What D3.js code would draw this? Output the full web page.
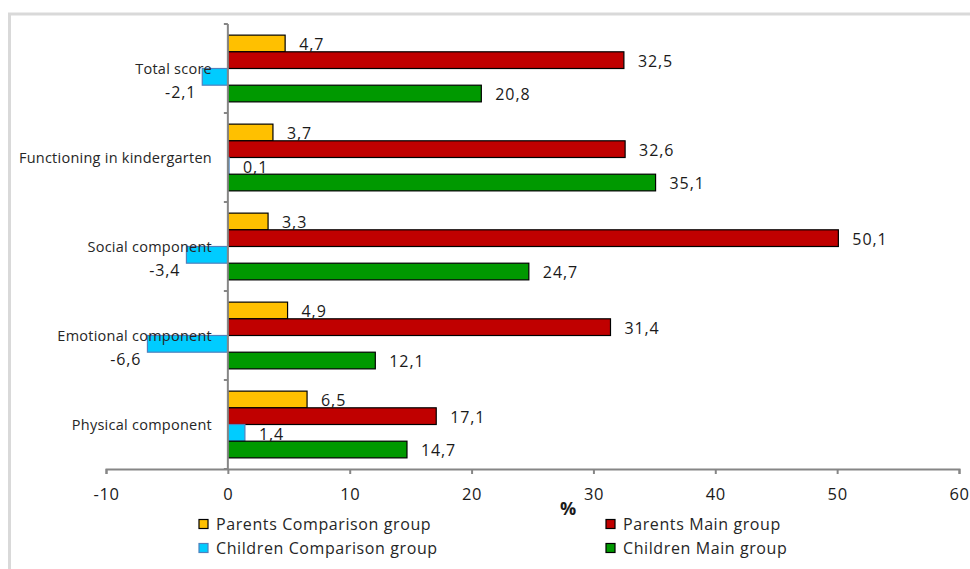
<!DOCTYPE html>
<html>
<head>
<meta charset="utf-8">
<script src="https://cdn.jsdelivr.net/npm/d3@7"></script>
<style>
  html, body { margin: 0; padding: 0; background: #fff; }
  svg { display: block; }
  text { font-family: "Open Sans", "Liberation Sans", sans-serif; }
</style>
</head>
<body>
<svg id="chart" width="970" height="569"></svg>
<script>
// Change scores (%) by domain, for each group
const categories = [
  "Total score",
  "Functioning in kindergarten",
  "Social component",
  "Emotional component",
  "Physical component"
];
const seriesNames = [
  "Parents Comparison group",
  "Parents Main group",
  "Children Comparison group",
  "Children Main group"
];
const parentsComparison  = [4.7, 3.7, 3.3, 4.9, 6.5];
const parentsMain        = [32.5, 32.6, 50.1, 31.4, 17.1];
const childrenComparison = [-2.1, 0.1, -3.4, -6.6, 1.4];
const childrenMain       = [20.8, 35.1, 24.7, 12.1, 14.7];
const xTicks = [-10, 0, 10, 20, 30, 40, 50, 60];
const axisTitle = "%";

const seriesValues = [parentsComparison, parentsMain, childrenComparison, childrenMain];
const fills   = ["#FFC000", "#C00000", "#00CCFF", "#009900"];
const strokes = ["#000000", "#000000", "#4F81BD", "#000000"];

const svg = d3.select("#chart");

// outer chart frame
svg.append("rect")
  .attr("x", 9.5).attr("y", 14)
  .attr("width", 990).attr("height", 600)
  .attr("fill", "none").attr("stroke", "#d9d9d9").attr("stroke-width", 3);

const plot = { left: 106, right: 959, top: 24, bottom: 469 };

const x = d3.scaleLinear().domain([-10, 60]).range([plot.left, plot.right]);
const y = d3.scaleBand().domain(categories).range([plot.top, plot.bottom])
  .paddingInner(0.25).paddingOuter(0.125);
const ySub = d3.scaleBand().domain(seriesNames).range([0, y.bandwidth()]);

const fmt = v => String(v).replace(".", ",");

// bars
const rows = [];
categories.forEach((c, i) => {
  seriesNames.forEach((s, j) => {
    rows.push({ cat: c, series: s, j, value: seriesValues[j][i] });
  });
});

const g = svg.append("g");
g.selectAll("rect.bar").data(rows).enter().append("rect")
  .attr("class", "bar")
  .attr("x", d => x(Math.min(0, d.value)))
  .attr("y", d => y(d.cat) + ySub(d.series))
  .attr("width", d => Math.abs(x(d.value) - x(0)))
  .attr("height", ySub.bandwidth())
  .attr("fill", d => fills[d.j])
  .attr("stroke", d => strokes[d.j])
  .attr("stroke-width", 1.2);

// value labels
g.selectAll("text.val").data(rows).enter().append("text")
  .attr("class", "val")
  .attr("x", d => d.value >= 0 ? x(d.value) + 14 : x(d.value) - 6)
  .attr("y", d => y(d.cat) + ySub(d.series) + ySub.bandwidth() / 2 + (d.value >= 0 ? 1 : 15))
  .attr("dy", "0.36em")
  .attr("text-anchor", d => d.value >= 0 ? "start" : "end")
  .attr("font-size", 16)
  .attr("letter-spacing", 0.9)
  .attr("fill", "#1a1a1a")
  .text(d => fmt(d.value));

// category labels
svg.append("g").selectAll("text").data(categories).enter().append("text")
  .attr("x", 212)
  .attr("y", d => y(d) + y.step() / 2 - (y.step() * y.paddingInner()) / 2)
  .attr("dy", "0.35em")
  .attr("text-anchor", "end")
  .attr("font-size", 14.5)
  .attr("letter-spacing", 0.25)
  .attr("fill", "#262626")
  .text(d => d);

// x axis
const xAxis = d3.axisBottom(x).tickValues(xTicks).tickSize(5).tickSizeOuter(5).tickPadding(14)
  .tickFormat(d => String(d));
const xa = svg.append("g").attr("transform", `translate(0,${plot.bottom})`).call(xAxis);
xa.select(".domain").attr("stroke", "#868686").attr("stroke-width", 2);
xa.selectAll(".tick line").attr("stroke", "#868686").attr("stroke-width", 2);
xa.selectAll(".tick text").attr("font-size", 16.5).attr("fill", "#1a1a1a")
  .attr("letter-spacing", 0.6)
  .attr("font-family", "'Open Sans', sans-serif");

// y axis at zero
const yBoundaries = d3.range(categories.length + 1).map(i => plot.top + i * y.step());
const ya = svg.append("g");
ya.append("line")
  .attr("x1", x(0)).attr("x2", x(0))
  .attr("y1", plot.top).attr("y2", plot.bottom)
  .attr("stroke", "#868686").attr("stroke-width", 2);
ya.selectAll("line.tk").data(yBoundaries).enter().append("line")
  .attr("class", "tk")
  .attr("x1", x(0) - 4).attr("x2", x(0))
  .attr("y1", d => d).attr("y2", d => d)
  .attr("stroke", "#868686").attr("stroke-width", 2);

// axis title
svg.append("text")
  .attr("x", 568).attr("y", 509)
  .attr("dy", "0.35em")
  .attr("text-anchor", "middle")
  .attr("font-size", 18).attr("font-weight", "bold")
  .attr("fill", "#1a1a1a")
  .text(axisTitle);

// legend
const legendPos = [
  { x: 199, y: 524 }, { x: 606, y: 524 },
  { x: 199, y: 548 }, { x: 606, y: 548 }
];
const lg = svg.append("g").selectAll("g").data(seriesNames).enter().append("g")
  .attr("transform", (d, i) => `translate(${legendPos[i].x},${legendPos[i].y})`);
lg.append("rect")
  .attr("x", 0).attr("y", -4.5).attr("width", 9).attr("height", 9)
  .attr("fill", (d, i) => fills[i])
  .attr("stroke", (d, i) => strokes[i]).attr("stroke-width", 1.2);
lg.append("text")
  .attr("x", 17).attr("y", 0).attr("dy", "0.35em")
  .attr("font-size", 16)
  .attr("letter-spacing", 0.6)
  .attr("fill", "#262626")
  .text(d => d);
</script>
</body>
</html>
